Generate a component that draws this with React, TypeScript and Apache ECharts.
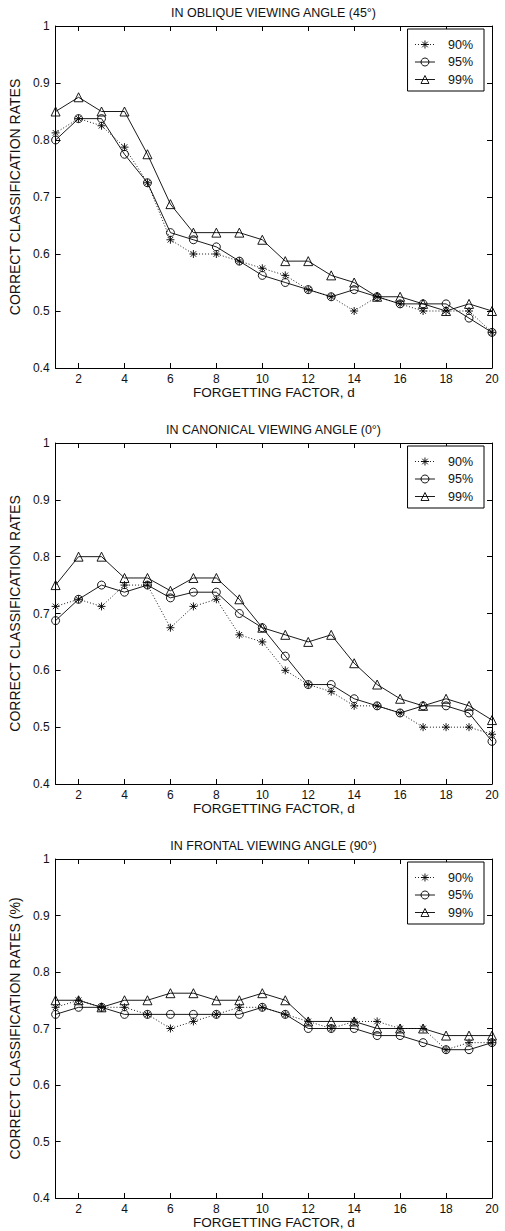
import React, { useEffect, useRef } from "react";
import * as echarts from "echarts";

const factors = [1, 2, 3, 4, 5, 6, 7, 8, 9, 10, 11, 12, 13, 14, 15, 16, 17, 18, 19, 20];
const xTickValues = [2, 4, 6, 8, 10, 12, 14, 16, 18, 20];
const seriesNames = ["90%", "95%", "99%"];

const titles = [
  "IN OBLIQUE VIEWING ANGLE (45°)",
  "IN CANONICAL VIEWING ANGLE (0°)",
  "IN FRONTAL VIEWING ANGLE (90°)",
];
const yNames = [
  "CORRECT CLASSIFICATION RATES",
  "CORRECT CLASSIFICATION RATES",
  "CORRECT CLASSIFICATION RATES (%)",
];
const xName = "FORGETTING FACTOR, d";

const oblique90 = [0.8125, 0.8375, 0.825, 0.7875, 0.725, 0.625, 0.6, 0.6, 0.5875, 0.575, 0.5625, 0.5375, 0.525, 0.5, 0.525, 0.5125, 0.5, 0.5, 0.5, 0.4625];
const oblique95 = [0.8, 0.8375, 0.8375, 0.775, 0.725, 0.6375, 0.625, 0.6125, 0.5875, 0.5625, 0.55, 0.5375, 0.525, 0.5375, 0.525, 0.5125, 0.5125, 0.5125, 0.4875, 0.4625];
const oblique99 = [0.85, 0.875, 0.85, 0.85, 0.775, 0.6875, 0.6375, 0.6375, 0.6375, 0.625, 0.5875, 0.5875, 0.5625, 0.55, 0.525, 0.525, 0.5125, 0.5, 0.5125, 0.5];

const canonical90 = [0.7125, 0.725, 0.7125, 0.75, 0.75, 0.675, 0.7125, 0.725, 0.6625, 0.65, 0.6, 0.575, 0.5625, 0.5375, 0.5375, 0.525, 0.5, 0.5, 0.5, 0.4875];
const canonical95 = [0.6875, 0.725, 0.75, 0.7375, 0.75, 0.7275, 0.7375, 0.7375, 0.7, 0.675, 0.625, 0.575, 0.575, 0.55, 0.5375, 0.525, 0.5375, 0.5375, 0.525, 0.475];
const canonical99 = [0.75, 0.8, 0.8, 0.7625, 0.7625, 0.74, 0.7625, 0.7625, 0.725, 0.675, 0.6625, 0.65, 0.6625, 0.6125, 0.575, 0.55, 0.5375, 0.55, 0.5375, 0.5125];

const frontal90 = [0.7375, 0.75, 0.7375, 0.7375, 0.725, 0.7, 0.7125, 0.725, 0.7375, 0.7375, 0.725, 0.7125, 0.7, 0.7125, 0.7125, 0.7, 0.7, 0.6625, 0.675, 0.675];
const frontal95 = [0.725, 0.7375, 0.7375, 0.725, 0.725, 0.725, 0.725, 0.725, 0.725, 0.7375, 0.725, 0.7, 0.7, 0.7, 0.6875, 0.6875, 0.675, 0.6625, 0.6625, 0.675];
const frontal99 = [0.75, 0.75, 0.7375, 0.75, 0.75, 0.7625, 0.7625, 0.75, 0.75, 0.7625, 0.75, 0.7125, 0.7125, 0.7125, 0.7, 0.7, 0.7, 0.6875, 0.6875, 0.6875];

const panels = [
  [oblique90, oblique95, oblique99],
  [canonical90, canonical95, canonical99],
  [frontal90, frontal95, frontal99],
];

const FONT = "'Liberation Sans', Arial, Helvetica, sans-serif";
const STAR = "path://M5,0L5,10M0,5L10,5M1.5,1.5L8.5,8.5M1.5,8.5L8.5,1.5";

export default function App() {
  const ref = useRef<HTMLDivElement>(null);
  useEffect(() => {
    if (!ref.current) return;
    const chart = echarts.init(ref.current, undefined, { renderer: "svg" });
    const gridTops = [26, 443, 859];
    const gridHeights = [342, 341, 339];
    const left = 55;
    const width = 437;

    const grids: any[] = [];
    const xAxes: any[] = [];
    const yAxes: any[] = [];
    const series: any[] = [];
    const titleOpts: any[] = [];
    const legends: any[] = [];

    const axisLine = { show: true, lineStyle: { color: "#000", width: 1 } };
    const tickStyle = { color: "#000", width: 1 };

    panels.forEach((panel, p) => {
      grids.push({ left, top: gridTops[p], width, height: gridHeights[p], show: false, containLabel: false });
      xAxes.push({
        type: "value", gridIndex: p, min: 1, max: 20, position: "bottom",
        name: xName, nameLocation: "middle", nameGap: 15,
        nameTextStyle: { color: "#111", fontSize: 13.5, fontFamily: FONT },
        axisLine,
        axisTick: { show: true, inside: true, length: 5, lineStyle: tickStyle, customValues: xTickValues },
        axisLabel: { show: true, margin: 5, color: "#111", fontSize: 12, fontFamily: FONT, customValues: xTickValues },
        splitLine: { show: false },
      });
      xAxes.push({
        type: "value", gridIndex: p, min: 1, max: 20, position: "top",
        axisLine,
        axisTick: { show: true, inside: true, length: 5, lineStyle: tickStyle, customValues: xTickValues },
        axisLabel: { show: false },
        splitLine: { show: false },
      });
      yAxes.push({
        type: "value", gridIndex: p, min: 0.4, max: 1, interval: 0.1, position: "left",
        name: yNames[p], nameLocation: "middle", nameGap: 18, nameRotate: 90,
        nameTextStyle: { color: "#111", fontSize: 14, fontFamily: FONT },
        axisLine,
        axisTick: { show: true, inside: true, length: 5, lineStyle: tickStyle },
        axisLabel: { show: true, margin: 6, color: "#111", fontSize: 12, fontFamily: FONT },
        splitLine: { show: false },
      });
      yAxes.push({
        type: "value", gridIndex: p, min: 0.4, max: 1, interval: 0.1, position: "right",
        axisLine,
        axisTick: { show: true, inside: true, length: 5, lineStyle: tickStyle },
        axisLabel: { show: false },
        splitLine: { show: false },
      });

      titleOpts.push({
        text: titles[p], left: left + width / 2, top: gridTops[p] - 20, textAlign: "center", padding: 0,
        textStyle: { color: "#111", fontSize: 12.5, fontWeight: "normal", fontFamily: FONT },
      });

      legends.push({
        data: seriesNames, orient: "vertical", right: 21, top: gridTops[p] + 3,
        backgroundColor: "#fff", borderColor: "#000", borderWidth: 1,
        padding: [9, 11, 5, 7], itemWidth: 20, itemHeight: 10, itemGap: 4.5,
        selectedMode: false,
        lineStyle: { width: 0.9 },
        itemStyle: { borderWidth: 0.9 },
        textStyle: { color: "#111", fontSize: 12.5, fontFamily: FONT, padding: [0, 0, 0, 8] },
      });

      panel.forEach((vals, s) => {
        const symbol = s === 0 ? STAR : s === 1 ? "circle" : "triangle";
        const symbolSize = s === 0 ? 8 : s === 1 ? 8 : 9;
        series.push({
          type: "line",
          name: seriesNames[s],
          xAxisIndex: p * 2,
          yAxisIndex: p * 2,
          data: factors.map((f, i) => [f, vals[i]]),
          symbol,
          symbolSize,
          showAllSymbol: true,
          color: "#000",
          lineStyle: { color: "#000", width: 0.9, type: s === 0 ? [1, 2] : "solid" },
          itemStyle: { color: "none", borderColor: "#000", borderWidth: 0.9 },
          emphasis: { disabled: true },
          z: 3 - s,
        });
      });
    });

    chart.setOption({
      animation: false,
      backgroundColor: "#fff",
      textStyle: { fontFamily: FONT },
      title: titleOpts,
      legend: legends,
      grid: grids,
      xAxis: xAxes,
      yAxis: yAxes,
      series,
    });
    return () => chart.dispose();
  }, []);
  return <div ref={ref} style={{ position: "absolute", left: 0, top: 0, width: 505, height: 1231 }} />;
}
